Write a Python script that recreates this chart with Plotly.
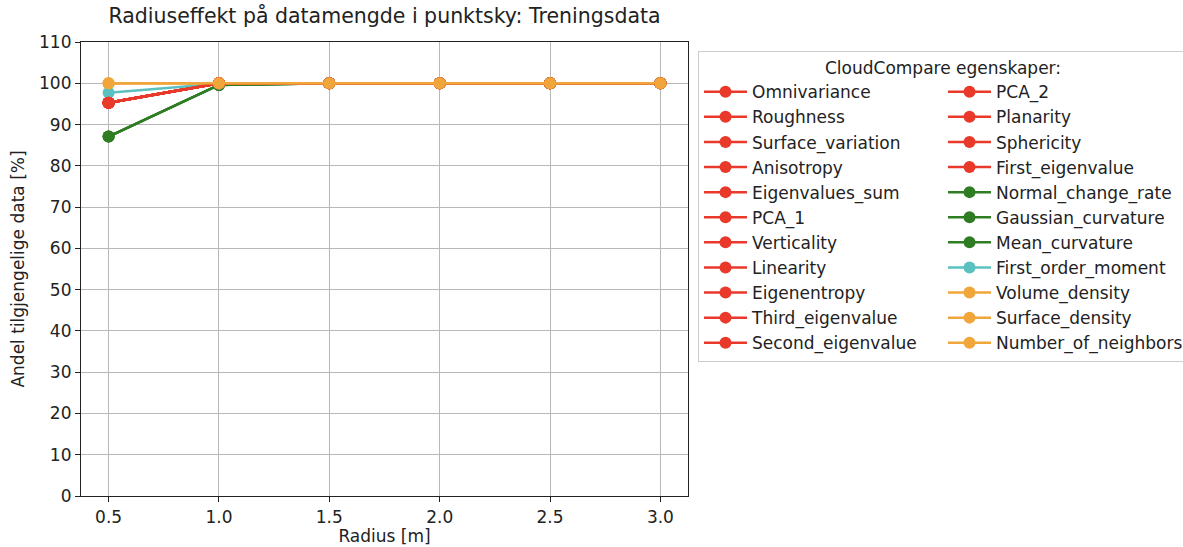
import plotly.graph_objects as go

radius = [0.5, 1.0, 1.5, 2.0, 2.5, 3.0]

# Feature names in the order they are listed (column 1, then column 2)
col1 = ["Omnivariance", "Roughness", "Surface_variation", "Anisotropy",
        "Eigenvalues_sum", "PCA_1", "Verticality", "Linearity",
        "Eigenentropy", "Third_eigenvalue", "Second_eigenvalue"]
col2 = ["PCA_2", "Planarity", "Sphericity", "First_eigenvalue",
        "Normal_change_rate", "Gaussian_curvature", "Mean_curvature",
        "First_order_moment", "Volume_density", "Surface_density",
        "Number_of_neighbors"]

# Share of available data [%] per radius, by feature group
eigen_vals = [95.3, 100.0, 100.0, 100.0, 100.0, 100.0]
curvature_vals = [87.1, 99.6, 100.0, 100.0, 100.0, 100.0]
moment_vals = [97.7, 99.9, 100.0, 100.0, 100.0, 100.0]
density_vals = [100.0, 100.0, 100.0, 100.0, 100.0, 100.0]

RED = "#e8392b"
GREEN = "#2e7d22"
CYAN = "#5bc0c0"
ORANGE = "#f0a63a"

groups = {
    "Omnivariance": (eigen_vals, RED), "Roughness": (eigen_vals, RED),
    "Surface_variation": (eigen_vals, RED), "Anisotropy": (eigen_vals, RED),
    "Eigenvalues_sum": (eigen_vals, RED), "PCA_1": (eigen_vals, RED),
    "Verticality": (eigen_vals, RED), "Linearity": (eigen_vals, RED),
    "Eigenentropy": (eigen_vals, RED), "Third_eigenvalue": (eigen_vals, RED),
    "Second_eigenvalue": (eigen_vals, RED), "PCA_2": (eigen_vals, RED),
    "Planarity": (eigen_vals, RED), "Sphericity": (eigen_vals, RED),
    "First_eigenvalue": (eigen_vals, RED),
    "Normal_change_rate": (curvature_vals, GREEN),
    "Gaussian_curvature": (curvature_vals, GREEN),
    "Mean_curvature": (curvature_vals, GREEN),
    "First_order_moment": (moment_vals, CYAN),
    "Volume_density": (density_vals, ORANGE),
    "Surface_density": (density_vals, ORANGE),
    "Number_of_neighbors": (density_vals, ORANGE),
}

# Interleave the two columns so a horizontal legend fills row by row
order = []
for a, b in zip(col1, col2):
    order += [a, b]

fig = go.Figure()
for name in order:
    vals, color = groups[name]
    fig.add_trace(go.Scatter(
        x=radius, y=vals, name=name, mode="lines+markers",
        line=dict(color=color, width=2.5),
        marker=dict(color=color, size=12),
    ))

axis_common = dict(
    showline=True, linecolor="#222", linewidth=1.2, mirror=True,
    ticks="outside", ticklen=5, tickcolor="#222",
    showgrid=True, gridcolor="#b8b8b8", gridwidth=1, zeroline=False,
    tickfont=dict(size=17, color="#222"),
)

fig.update_layout(
    width=1183, height=547,
    margin=dict(l=81, r=495, t=42, b=51, autoexpand=False),
    paper_bgcolor="white", plot_bgcolor="white",
    font=dict(family="DejaVu Sans", color="#222"),
    title=dict(text="Radiuseffekt på datamengde i punktsky: Treningsdata",
               x=(81 + 688) / 2 / 1183, xanchor="center", y=0.985, yanchor="top",
               font=dict(size=20.5, color="#222")),
    xaxis=dict(range=[0.375, 3.125], tickvals=radius, tickformat=".1f",
               title=dict(text="Radius [m]", font=dict(size=17), standoff=4),
               **axis_common),
    yaxis=dict(range=[0, 110], dtick=10,
               title=dict(text="Andel tilgjengelige data [%]", font=dict(size=17), standoff=10),
               **axis_common),
    legend=dict(
        orientation="h", x=1.0165, xanchor="left", y=0.98, yanchor="top",
        entrywidth=186, entrywidthmode="pixels",
        maxheight=1.0,
        bgcolor="white", bordercolor="#cccccc", borderwidth=1,
        font=dict(size=17, color="#222"),
        title=dict(text="CloudCompare egenskaper:", side="top center",
                   font=dict(size=17, color="#222")),
        itemwidth=43,
    ),
)

fig.write_html("out.html")
